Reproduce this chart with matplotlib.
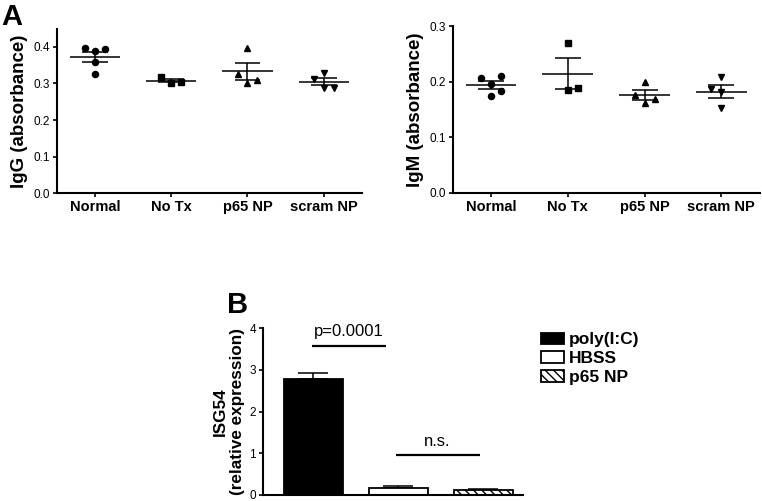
import numpy as np
import matplotlib
matplotlib.use('Agg')
import matplotlib.pyplot as plt
from matplotlib.patches import Patch

plt.rcParams['font.family'] = ['Liberation Sans', 'DejaVu Sans']

# --- datos panel A ---
GRUPOS = ["Normal", "No Tx", "p65 NP", "scram NP"]
MARCADORES = ["o", "s", "^", "v"]

igg_normal = [0.398, 0.389, 0.393, 0.359, 0.325]
igg_notx = [0.318, 0.302, 0.304]
igg_p65 = [0.398, 0.325, 0.300, 0.309]
igg_scram = [0.329, 0.311, 0.289, 0.289]

igm_normal = [0.206, 0.210, 0.195, 0.183, 0.174]
igm_notx = [0.270, 0.185, 0.188]
igm_p65 = [0.200, 0.176, 0.161, 0.168]
igm_scram = [0.208, 0.187, 0.181, 0.152]

# desplazamiento horizontal de cada punto (en pasos de jitter)
jit_igg = [[-1, 0, 1, 0, 0], [-1, 0, 1], [0, -1, 0, 1], [0, -1, 0, 1]]
jit_igm = [[-1, 1, 0, 1, 0], [0, 0, 1], [0, -1, 0, 1], [0, -1, 0, 0]]

# --- datos panel B ---
TRATAMIENTOS = ["poly(I:C)", "HBSS", "p65 NP"]
isg54_media = [2.79, 0.17, 0.12]
isg54_err = [0.14, 0.05, 0.02]

LW = 1.1


def scatter_panel(ax, grupos_vals, jitter, ylim, yticks, ylabel):
    for i, vals in enumerate(grupos_vals):
        vals = np.array(vals)
        xs = i + 0.13 * np.array(jitter[i])
        ax.plot(xs, vals, MARCADORES[i], color='black', markersize=4.4,
                linestyle='none', zorder=3)
        m = vals.mean()
        sem = vals.std(ddof=1) / np.sqrt(len(vals))
        ax.hlines(m, i - 0.33, i + 0.33, color='black', lw=LW)
        ax.hlines([m - sem, m + sem], i - 0.17, i + 0.17, color='black', lw=LW)
        ax.vlines(i, m - sem, m + sem, color='black', lw=LW)
    ax.set_xlim(-0.5, 3.5)
    ax.set_ylim(*ylim)
    ax.set_yticks(yticks)
    ax.set_yticklabels([f"{t:.1f}" for t in yticks], fontsize=8.5)
    ax.set_xticks(range(len(GRUPOS)))
    ax.set_xticklabels(GRUPOS, fontsize=10.5, fontweight='bold')
    ax.set_ylabel(ylabel, fontsize=13.5, fontweight='bold', labelpad=4)
    for s in ['top', 'right']:
        ax.spines[s].set_visible(False)
    for s in ['left', 'bottom']:
        ax.spines[s].set_linewidth(1.5)
    ax.tick_params(width=1.2, length=3, pad=2)


fig = plt.figure(figsize=(7.62, 5.01), dpi=100)

ax1 = fig.add_axes([0.0748, 0.614, 0.400, 0.329])
scatter_panel(ax1, [igg_normal, igg_notx, igg_p65, igg_scram], jit_igg,
              (0, 0.45), [0.0, 0.1, 0.2, 0.3, 0.4], "IgG (absorbance)")

ax2 = fig.add_axes([0.594, 0.615, 0.403, 0.333])
scatter_panel(ax2, [igm_normal, igm_notx, igm_p65, igm_scram], jit_igm,
              (0, 0.3), [0.0, 0.1, 0.2, 0.3], "IgM (absorbance)")

# --- panel B ---
ax3 = fig.add_axes([0.345, 0.012, 0.342, 0.333])
x = np.arange(len(TRATAMIENTOS))
colores = ['black', 'white', 'white']
tramas = [None, None, '\\\\\\\\']
for i in range(len(TRATAMIENTOS)):
    ax3.bar(x[i], isg54_media[i], width=0.69, color=colores[i],
            edgecolor='black', linewidth=1.3, hatch=tramas[i], zorder=2)
    ax3.errorbar(x[i], isg54_media[i], yerr=[[0], [isg54_err[i]]],
                 color='black', capsize=10.5, elinewidth=LW, capthick=LW, zorder=1)
ax3.set_xlim(-0.59, 2.47)
ax3.set_ylim(0, 4)
ax3.set_yticks([0, 1, 2, 3, 4])
ax3.set_yticklabels(["0", "1", "2", "3", "4"], fontsize=8.5)
ax3.set_xticks([])
ax3.set_ylabel("ISG54\n(relative expression)", fontsize=12.3,
               fontweight='bold', labelpad=3, linespacing=1.2)
for s in ['top', 'right']:
    ax3.spines[s].set_visible(False)
for s in ['left', 'bottom']:
    ax3.spines[s].set_linewidth(1.5)
ax3.tick_params(width=1.2, length=3, pad=2)

# barras de significancia
ax3.hlines(3.57, -0.01, 0.86, color='black', lw=1.6)
ax3.text(0.42, 3.81, "p=0.0001", ha='center', va='baseline', fontsize=12)
ax3.hlines(0.96, 0.97, 1.96, color='black', lw=1.6)
ax3.text(1.46, 1.17, "n.s.", ha='center', va='baseline', fontsize=12)

handles = [Patch(facecolor=colores[i], edgecolor='black', linewidth=1.3,
                 hatch=tramas[i], label=TRATAMIENTOS[i])
           for i in range(len(TRATAMIENTOS))]
leg = fig.legend(handles=handles, loc='upper left',
                 bbox_to_anchor=(0.706, 1 - 329 / 501), frameon=False,
                 prop={'weight': 'bold', 'size': 12.5}, handlelength=1.3,
                 handleheight=0.65, handletextpad=0.3, labelspacing=0.22,
                 borderpad=0.2, borderaxespad=0)

fig.text(0.002, 0.995, "A", fontsize=21, fontweight='bold', va='top')
fig.text(0.298, 1 - 291 / 501, "B", fontsize=21, fontweight='bold', va='top')

plt.savefig("out.png", dpi=100)
